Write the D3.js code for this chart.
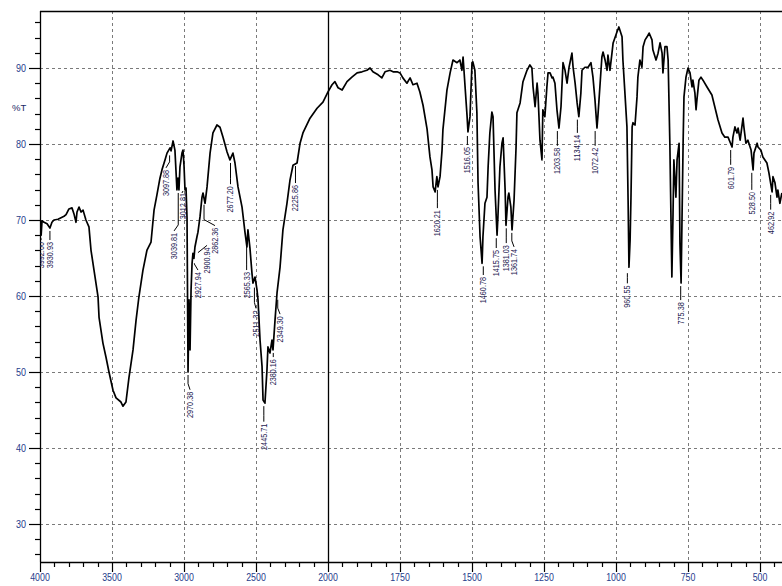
<!DOCTYPE html>
<html>
<head>
<meta charset="utf-8">
<script src="https://cdn.jsdelivr.net/npm/d3@7"></script>
<style>
  body { margin: 0; background: #fff; }
  svg { display: block; }
  text { font-family: "Liberation Sans", Arial, sans-serif; }
</style>
</head>
<body>
<svg id="chart" width="782" height="586"></svg>
<script>
// IR spectrum, wavenumber (cm-1) vs %T
const wn = [4000,3993,3992,3986,3972,3951,3931,3917,3903,3875,3854,3833,3819,3799,3778,3764,3750,3743,3729,3715,3701,3681,3660,3646,3625,3597,3590,3563,3542,3521,3493,3472,3438,3424,3403,3382,3354,3333,3313,3285,3257,3229,3208,3188,3167,3153,3132,3118,3097,3090,3076,3063,3056,3049,3042,3035,3028,3014,3007,3000,2993,2986,2979,2972,2965,2958,2951,2944,2938,2931,2924,2910,2903,2889,2875,2868,2854,2840,2819,2799,2771,2750,2729,2701,2681,2660,2646,2625,2597,2576,2563,2556,2542,2528,2521,2507,2493,2486,2472,2458,2451,2438,2424,2417,2403,2389,2382,2368,2354,2333,2313,2285,2264,2243,2215,2194,2174,2125,2076,2035,2000,
  1986,1976,1965,1951,1934,1917,1899,1882,1865,1854,1844,1826,1813,1802,1785,1774,1760,1750,1740,1726,1715,1705,1691,1681,1670,1656,1646,1639,1635,1628,1622,1618,1611,1604,1601,1587,1576,1566,1552,1542,1535,1531,1524,1517,1514,1507,1500,1497,1490,1483,1479,1472,1465,1462,1455,1448,1444,1438,1431,1427,1420,1413,1410,1403,1396,1392,1385,1382,1375,1372,1365,1361,1354,1347,1344,1333,1323,1309,1299,1292,1288,1281,1274,1271,1264,1257,1254,1247,1240,1236,1229,1222,1219,1212,1205,1198,1191,1184,1177,1170,1163,1153,1149,1142,1135,1129,1122,1118,1108,1097,1087,1080,1073,1066,1063,1056,1049,1045,1038,1031,1028,1021,1014,1010,997,990,979,976,969,962,958,955,951,948,944,941,934,927,924,917,910,906,899,892,885,875,872,861,854,847,840,837,830,823,819,813,806,802,799,792,788,781,778,774,767,764,757,750,743,736,733,726,722,719,712,705,698,684,667,657,646,632,622,611,597,594,587,580,576,569,559,556,549,542,531,524,521,510,507,497,490,476,469,458,455,448,441,438,431,424];
const pt = [70.0,69.7,68.0,69.9,69.7,69.5,68.95,69.7,70.0,70.1,70.3,70.5,70.7,71.45,71.6,70.8,69.7,71.05,71.7,71.05,71.3,70.0,69.1,66.05,63.4,59.9,57.2,53.8,51.97,50.0,47.6,46.6,46.05,45.5,46.05,49.3,52.9,56.8,59.9,63.4,66.05,67.1,71.3,73.3,75.5,76.6,77.9,78.8,79.5,79.1,80.4,79.2,76.6,73.95,75.5,73.95,77.0,78.8,79.2,77.2,73.95,74.2,70.3,50.0,59.5,52.9,60.8,64.3,65.6,64.95,66.45,67.8,68.4,70.4,73.0,73.55,72.2,74.35,78.8,81.45,82.5,82.2,80.9,78.95,77.9,78.8,77.5,74.35,71.7,68.3,66.45,68.7,66.3,63.0,61.7,62.5,60.8,59.5,54.2,50.7,46.3,45.9,50.2,53.3,52.5,54.2,52.9,56.8,60.4,63.8,68.7,72.2,75.25,77.2,77.5,80.1,81.45,83.4,84.7,85.5,86.85,
  87.8,88.2,87.4,87.1,88.2,88.8,89.35,89.5,89.7,90.0,89.5,89.1,88.7,89.5,89.7,89.5,89.5,89.35,88.7,88.0,88.7,87.8,88.0,86.85,85.1,81.95,78.3,76.6,74.35,73.7,75.7,74.35,75.7,79.2,81.85,87.1,89.35,91.05,90.7,91.05,89.7,91.45,87.5,83.6,81.6,83.6,90.7,90.8,89.7,84.1,74.9,67.8,64.3,67.8,72.2,73.0,77.0,81.45,84.2,83.6,73.95,68.0,70.4,77.0,80.1,80.8,73.95,69.3,73.0,73.55,71.7,68.7,72.6,79.6,84.1,85.4,88.2,89.7,90.4,90.0,87.5,84.9,88.0,86.7,80.5,77.9,84.5,83.6,87.5,89.35,89.35,88.7,88.8,88.0,84.5,82.1,84.9,90.7,89.7,88.0,90.1,91.95,90.1,88.0,85.4,83.6,86.7,89.7,90.1,90.1,90.7,88.8,85.8,82.1,83.6,87.5,91.45,92.1,91.05,89.7,91.7,89.7,91.95,93.3,94.7,95.4,94.1,91.05,86.7,82.25,72.6,63.8,67.4,73.0,82.25,82.8,82.5,86.2,88.8,91.05,90.1,92.8,93.7,94.1,94.6,93.7,92.4,91.05,91.95,93.3,91.95,89.35,92.8,92.8,91.05,80.1,62.5,70.8,77.9,73.0,77.9,80.1,66.95,61.7,80.1,86.2,88.8,90.0,89.35,87.5,88.4,86.7,84.5,85.8,88.4,88.8,88.4,87.5,86.45,84.9,83.2,81.45,80.9,80.9,79.6,80.9,82.25,81.45,82.1,80.5,83.4,82.25,80.1,80.5,79.2,76.6,78.8,80.1,79.6,79.2,78.3,77.5,76.2,73.7,75.7,74.9,73.0,73.95,72.2,73.55];

// peak labels: text, peak position, label position
const peakText = ["3992.00","3930.93","3097.88","3012.81","3039.81","2970.38","2927.94","2900.94","2862.36","2677.20","2565.33","2511.32","2445.71","2380.16","2349.30","2225.86","1620.21","1516.05","1460.78","1415.75","1381.03","1361.74","1203.58","1134.14","1072.42","960.55","775.38","601.79","528.50","462.92"];
const peakWn = [3993,3931,3100,3014,3040,2972,2928,2903,2861,2677,2565,2511,2445.71,2380,2349,2225.86,1620.21,1516.05,1460.78,1415.75,1381.03,1361.74,1203.58,1134.14,1072.42,960.55,775.38,601.79,528.50,462.92];
const peakT = [68.0,68.95,78.9,73.95,73.95,50.0,64.7,66.1,72.4,77.9,67.5,61.5,45.9,52.9,59.9,77.5,74.35,81.45,64.3,68.0,69.3,68.7,82.1,83.6,82.1,63.4,61.7,79.6,76.6,73.7];
const labelWn = [3993,3931,3125,3007,3069,2958,2903,2840,2785,2677,2565,2500,2445.71,2380,2333,2225.86,1620.21,1516.05,1460.78,1415.75,1381.03,1354,1203.58,1134.14,1072.42,960.55,775.38,601.79,528.50,462.92];
const labelT = [67.1,67.1,76.6,73.55,68.3,47.4,63.15,66.4,69.0,74.45,63.15,58.1,43.2,51.7,57.35,74.6,71.3,79.6,62.5,66.05,66.7,66.2,79.5,81.2,79.5,61.4,59.2,77.0,73.7,71.1];

const yMajor = [30, 40, 50, 60, 70, 80, 90];
const xMajor = [4000, 3500, 3000, 2500, 2000, 1750, 1500, 1250, 1000, 750, 500];

const svg = d3.select("#chart");
const plotLeft = 40, plotTop = 11, plotBottom = 562, plotRight = 782;

// x axis changes scale at 2000
const xScale = d3.scaleLinear().domain([4000, 2000, 400]).range([40, 328, 788.8]);
const yScale = d3.scaleLinear().domain([25, 97.5]).range([plotBottom, plotTop]);

svg.append("clipPath").attr("id", "plot")
   .append("rect").attr("x", plotLeft).attr("y", plotTop)
   .attr("width", plotRight - plotLeft).attr("height", plotBottom - plotTop);

// grid
const grid = svg.append("g").attr("stroke", "#7a7a7a").attr("stroke-dasharray", "3,3").attr("stroke-width", 1);
grid.selectAll(".hg").data(yMajor).enter().append("line")
    .attr("x1", plotLeft).attr("x2", plotRight)
    .attr("y1", d => Math.round(yScale(d)) + 0.5).attr("y2", d => Math.round(yScale(d)) + 0.5);
grid.selectAll(".vg").data(xMajor.filter(d => d !== 4000 && d !== 2000)).enter().append("line")
    .attr("y1", plotTop).attr("y2", plotBottom)
    .attr("x1", d => Math.round(xScale(d)) + 0.5).attr("x2", d => Math.round(xScale(d)) + 0.5);

// frame
const frame = svg.append("g").attr("stroke", "#000").attr("stroke-width", 1.3);
frame.append("line").attr("x1", plotLeft).attr("x2", plotRight).attr("y1", plotTop + 0.5).attr("y2", plotTop + 0.5);
frame.append("line").attr("x1", plotLeft + 0.5).attr("x2", plotLeft + 0.5).attr("y1", plotTop).attr("y2", plotBottom);
frame.append("line").attr("x1", plotLeft).attr("x2", plotRight).attr("y1", plotBottom + 0.5).attr("y2", plotBottom + 0.5);
frame.append("line").attr("x1", xScale(2000) + 0.5).attr("x2", xScale(2000) + 0.5).attr("y1", plotTop).attr("y2", plotBottom);

// y ticks
const yMinor = d3.range(26, 97, 2).filter(d => d % 10 !== 0);
svg.append("g").attr("stroke", "#000").attr("stroke-width", 1.2)
   .selectAll("line").data(yMinor.concat(yMajor)).enter().append("line")
   .attr("x1", d => d % 10 === 0 ? plotLeft - 11 : plotLeft - 5).attr("x2", plotLeft)
   .attr("y1", d => Math.round(yScale(d)) + 0.5).attr("y2", d => Math.round(yScale(d)) + 0.5);
svg.append("g").selectAll("text").data(yMajor).enter().append("text")
   .attr("x", 26).attr("y", d => yScale(d)).attr("dy", "0.36em")
   .attr("text-anchor", "end").attr("font-size", 10.5).attr("fill", "#1f3d8c")
   .attr("textLength", 10).attr("lengthAdjust", "spacingAndGlyphs")
   .text(d => d);
svg.append("text").attr("x", 12).attr("y", 111).attr("font-size", 9.5).attr("fill", "#1a2a66").text("%T");

// x ticks
const xMinor = d3.range(3900, 2000, -100).concat(d3.range(1950, 400, -50)).filter(d => !xMajor.includes(d));
svg.append("g").attr("stroke", "#000").attr("stroke-width", 1.2)
   .selectAll("line").data(xMinor.concat(xMajor)).enter().append("line")
   .attr("x1", d => Math.round(xScale(d)) + 0.5).attr("x2", d => Math.round(xScale(d)) + 0.5)
   .attr("y1", plotBottom).attr("y2", d => xMajor.includes(d) ? plotBottom + 10 : plotBottom + 5);
svg.append("g").selectAll("text").data(xMajor).enter().append("text")
   .attr("x", d => xScale(d)).attr("y", 581)
   .attr("text-anchor", "middle").attr("font-size", 10.5).attr("fill", "#1f3d8c")
   .attr("textLength", d => String(d).length * 4.9).attr("lengthAdjust", "spacingAndGlyphs")
   .text(d => d);

// spectrum
const line = d3.line().x(d => xScale(d[0])).y(d => yScale(d[1]));
svg.append("path")
   .datum(wn.map((w, i) => [w, pt[i]]))
   .attr("clip-path", "url(#plot)")
   .attr("fill", "none").attr("stroke", "#000").attr("stroke-width", 1.7)
   .attr("stroke-linejoin", "round")
   .attr("d", line);

// peak leaders and labels
const peaks = peakText.map((t, i) => ({
  text: t,
  cx: xScale(peakWn[i]), cy: yScale(peakT[i]),
  lx: xScale(labelWn[i]), ly: yScale(labelT[i])
}));
svg.append("g").attr("stroke", "#000").attr("stroke-width", 1).attr("fill", "none")
   .selectAll("path").data(peaks).enter().append("path")
   .attr("d", p => {
     const y0 = p.cy + 3, y1 = Math.max(y0, p.ly - 8);
     return `M${p.cx},${y0}L${p.cx},${y1}L${p.lx},${p.ly - 2}`;
   });
svg.append("g").attr("clip-path", "url(#plot)")
   .selectAll("text").data(peaks).enter().append("text")
   .attr("transform", p => `translate(${p.lx},${p.ly}) rotate(-90)`)
   .attr("text-anchor", "end").attr("dy", "0.35em")
   .attr("font-size", 8.5).attr("fill", "#1c2050")
   .attr("textLength", p => p.text.length * 3.75).attr("lengthAdjust", "spacingAndGlyphs")
   .text(p => p.text);
</script>
</body>
</html>
